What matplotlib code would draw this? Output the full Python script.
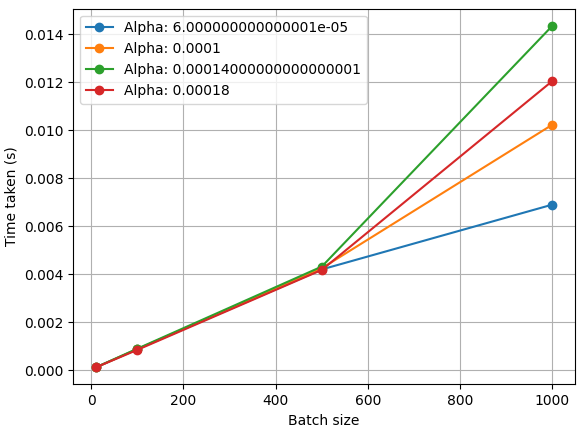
import matplotlib
matplotlib.use("Agg")
import matplotlib.pyplot as plt

batch_sizes = [10, 100, 500, 1000]
alphas = ["6.000000000000001e-05", "0.0001", "0.00014000000000000001", "0.00018"]
times = [
    [0.00012, 0.00088, 0.00420, 0.00690],
    [0.00012, 0.00088, 0.00425, 0.01023],
    [0.00012, 0.00090, 0.00432, 0.01435],
    [0.00012, 0.00085, 0.00418, 0.01205],
]

fig, ax = plt.subplots(figsize=(5.84, 4.32), dpi=100)
for a, t in zip(alphas, times):
    ax.plot(batch_sizes, t, marker="o", label=f"Alpha: {a}")
ax.set_xlabel("Batch size")
ax.set_ylabel("Time taken (s)")
ax.grid(True)
ax.legend(loc="upper left")
fig.subplots_adjust(left=0.125, right=0.985, bottom=0.11, top=0.98)
fig.savefig("out.png")
